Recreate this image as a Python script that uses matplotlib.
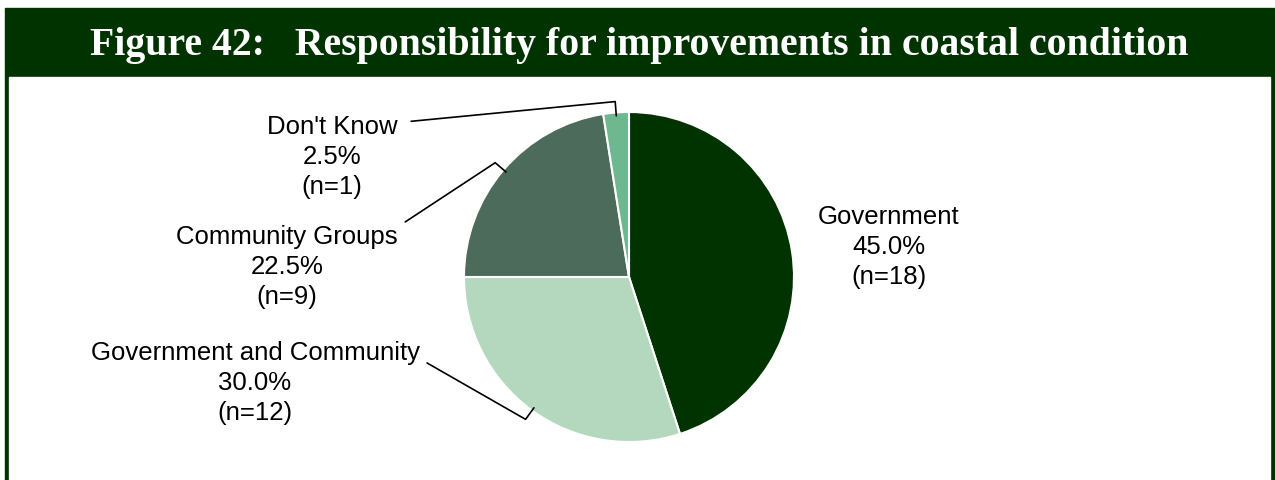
import numpy as np
import matplotlib
matplotlib.use("Agg")
from matplotlib import pyplot as plt
from matplotlib.patches import Rectangle

# data
categories = ["Government", "Government and Community", "Community Groups", "Don't Know"]
counts = [18, 12, 9, 1]
slice_colors = ["#003300", "#b3d8be", "#4d6b5a", "#6db88e"]
title = "Figure 42:   Responsibility for improvements in coastal condition"

# label centres (pixels from top-left) and leader line settings
label_pos = [(889, 247), (255, 383), (287, 267), (332, 157)]
leader_relpos = [None, (1, 0.78), (1, 0.97), (1, 0.9)]
leader_gap = [0, 4, 4, 8]

W, H = 1275, 481
green = "#003300"

fig = plt.figure(figsize=(W / 100, H / 100), dpi=100)
ax = fig.add_axes([0, 0, 1, 1])
ax.set_xlim(0, W)
ax.set_ylim(0, H)
ax.axis("off")

# frame and header band
ax.add_patch(Rectangle((5, 0), 1269, H - 9, color=green, zorder=0))
ax.add_patch(Rectangle((9, 0), 1261, H - 78, color="white", zorder=1))
ax.text(639.5, H - 55, title, ha="center", va="baseline", color="white",
        fontsize=28.6, fontweight="bold", family="Liberation Serif", zorder=2)

cx, cy, r = 629, H - 278, 165
wedges, _ = ax.pie(counts, colors=slice_colors, startangle=90, counterclock=False,
                   center=(cx, cy), radius=r, frame=True,
                   wedgeprops=dict(edgecolor="white", linewidth=1.5, zorder=3))
ax.set_xlim(0, W)
ax.set_ylim(0, H)
ax.set_aspect("equal")
ax.axis("off")

total = sum(counts)
for i, w in enumerate(wedges):
    w.set_zorder(3)
    txt = f"{categories[i]}\n{counts[i] / total * 100:.1f}%\n(n={counts[i]})"
    lx, ly = label_pos[i]
    if leader_relpos[i] is None:
        ax.text(lx, H - ly, txt, ha="center", va="center", fontsize=18.5,
                family="Liberation Sans", linespacing=1.3, zorder=4)
        continue
    mid = (w.theta1 + w.theta2) / 2
    tip = (cx + 0.98 * r * np.cos(np.radians(mid)), cy + 0.98 * r * np.sin(np.radians(mid)))
    arm = 0.12 * r * 72 / 100
    ax.annotate(txt, xy=tip, xytext=(lx, H - ly), ha="center", va="center",
                fontsize=18.5, family="Liberation Sans", linespacing=1.3, zorder=4,
                arrowprops=dict(arrowstyle="-", color="black", lw=1.2,
                                shrinkA=leader_gap[i], shrinkB=0,
                                relpos=leader_relpos[i],
                                connectionstyle=f"arc,angleA=0,angleB={mid},armA=0,armB={arm},rad=0"))

fig.savefig("out.png", dpi=100)
